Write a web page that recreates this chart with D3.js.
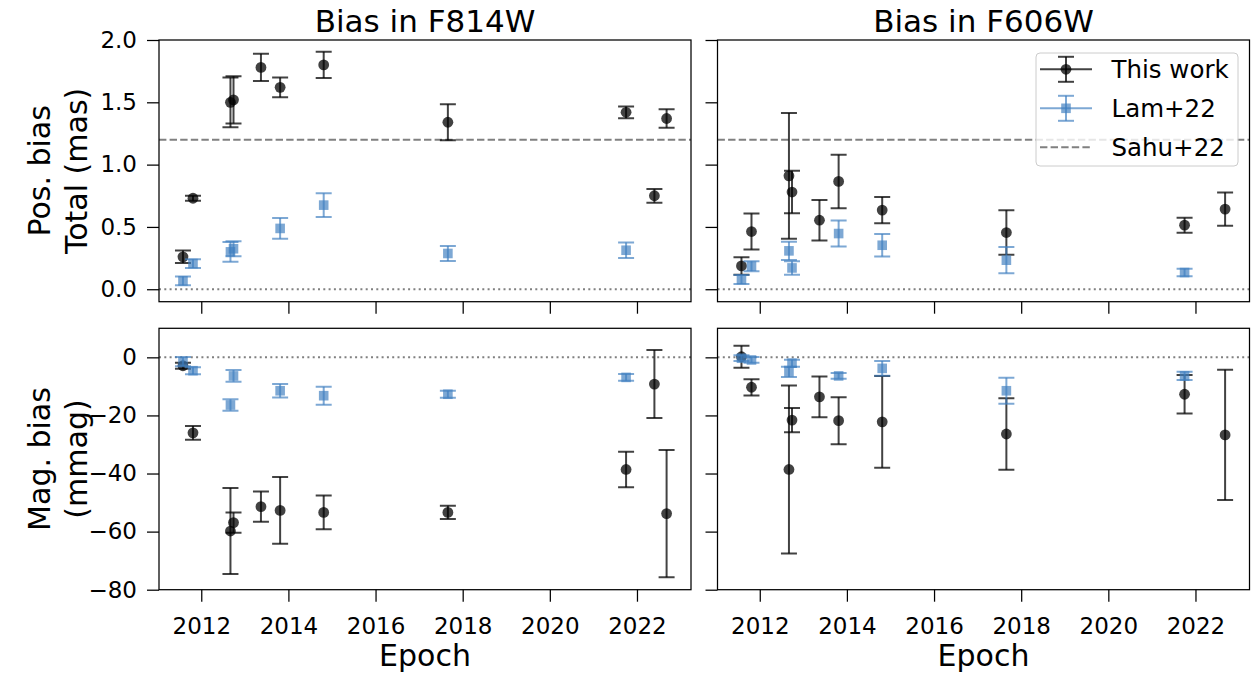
<!DOCTYPE html>
<html>
<head>
<meta charset="utf-8">
<script src="https://cdn.jsdelivr.net/npm/d3@7"></script>
<style>
  html, body { margin: 0; padding: 0; background: #fff; }
  svg { display: block; font-family: "DejaVu Sans", sans-serif; }
</style>
</head>
<body>
<svg id="chart" width="1257" height="673"></svg>
<script>
// ---------------- data ----------------
const titles = ["Bias in F814W", "Bias in F606W"];
const xTicks = [2012, 2014, 2016, 2018, 2020, 2022];
const posTicks = [0.0, 0.5, 1.0, 1.5, 2.0];
const magTicks = [0, -20, -40, -60, -80];
const sahu22 = 1.2;

// This work, F814W
const f814Epochs = [2011.58, 2011.81, 2012.67, 2012.74, 2013.37, 2013.81, 2014.81, 2017.66, 2021.75, 2022.40, 2022.68];
const f814Pos    = [0.26, 0.73, 1.50, 1.52, 1.78, 1.62, 1.80, 1.34, 1.42, 0.75, 1.37];
const f814PosErr = [0.05, 0.02, 0.20, 0.19, 0.11, 0.08, 0.105, 0.145, 0.047, 0.055, 0.074];
const f814Mag    = [-2.9, -26.0, -59.8, -56.9, -51.4, -52.7, -53.4, -53.4, -38.6, -9.2, -53.8];
const f814MagErr = [1.0, 2.4, 14.8, 3.5, 5.2, 11.5, 5.8, 2.3, 6.1, 11.7, 21.9];

// Lam+22, F814W
const lam814Epochs = [2011.58, 2011.81, 2012.67, 2012.74, 2013.81, 2014.81, 2017.66, 2021.75];
const lam814Pos    = [0.067, 0.206, 0.30, 0.325, 0.488, 0.675, 0.287, 0.313];
const lam814PosErr = [0.035, 0.035, 0.08, 0.06, 0.083, 0.095, 0.06, 0.062];
const lam814Mag    = [-1.5, -4.6, -16.4, -6.4, -11.5, -13.2, -12.7, -6.9];
const lam814MagErr = [1.6, 1.2, 2.0, 2.0, 2.3, 3.1, 1.2, 1.2];

// This work, F606W
const f606Epochs = [2011.58, 2011.81, 2012.67, 2012.74, 2013.37, 2013.81, 2014.81, 2017.66, 2021.75, 2022.68];
const f606Pos    = [0.187, 0.463, 0.91, 0.78, 0.554, 0.865, 0.635, 0.455, 0.514, 0.643];
const f606PosErr = [0.07, 0.145, 0.505, 0.17, 0.163, 0.215, 0.105, 0.178, 0.06, 0.133];
const f606Mag    = [0.2, -10.3, -38.6, -21.6, -13.6, -21.8, -22.2, -26.4, -12.7, -26.7];
const f606MagErr = [3.8, 2.8, 28.9, 4.2, 7.0, 8.1, 15.8, 12.3, 6.6, 22.4];

// Lam+22, F606W
const lam606Epochs = [2011.58, 2011.81, 2012.67, 2012.74, 2013.81, 2014.81, 2017.66, 2021.75];
const lam606Pos    = [0.078, 0.185, 0.308, 0.171, 0.447, 0.353, 0.233, 0.134];
const lam606PosErr = [0.036, 0.04, 0.074, 0.054, 0.105, 0.09, 0.105, 0.03];
const lam606Mag    = [-0.3, -0.9, -5.0, -2.0, -6.4, -3.8, -11.5, -6.4];
const lam606MagErr = [1.0, 1.0, 1.8, 1.2, 1.0, 2.5, 4.5, 1.4];

const legendLabels = ["This work", "Lam+22", "Sahu+22"];

// ---------------- layout ----------------
const svg = d3.select("#chart");
const colsX = [[159, 691], [717.5, 1249.5]];
const rowsY = [[40, 301.7], [328.3, 589.7]];
const xDomain = [2011.03, 2023.24];
const posDomain = [-0.1, 2.0];
const magDomain = [-80, 10];

const blackCol = "#000";
const blueCol = "#3f7fbf";
const FONT = "DejaVu Sans, sans-serif";

function zip(xs, ys, es) { return xs.map((x, i) => ({x, y: ys[i], e: es[i]})); }

const panels = [
  {col: 0, row: 0, domain: posDomain, ticks: posTicks, fmt: d3.format(".1f"),
   work: zip(f814Epochs, f814Pos, f814PosErr), lam: zip(lam814Epochs, lam814Pos, lam814PosErr), sahu: true},
  {col: 1, row: 0, domain: posDomain, ticks: posTicks, fmt: d3.format(".1f"),
   work: zip(f606Epochs, f606Pos, f606PosErr), lam: zip(lam606Epochs, lam606Pos, lam606PosErr), sahu: true, legend: true},
  {col: 0, row: 1, domain: magDomain, ticks: magTicks, fmt: d3.format("d"),
   work: zip(f814Epochs, f814Mag, f814MagErr), lam: zip(lam814Epochs, lam814Mag, lam814MagErr)},
  {col: 1, row: 1, domain: magDomain, ticks: magTicks, fmt: d3.format("d"),
   work: zip(f606Epochs, f606Mag, f606MagErr), lam: zip(lam606Epochs, lam606Mag, lam606MagErr)},
];

panels.forEach(p => {
  const [x0, x1] = colsX[p.col];
  const [y0, y1] = rowsY[p.row];
  const x = d3.scaleLinear().domain(xDomain).range([x0, x1]);
  const y = d3.scaleLinear().domain(p.domain).range([y1, y0]);
  const g = svg.append("g");

  const clipId = `clip${p.col}${p.row}`;
  svg.append("clipPath").attr("id", clipId).append("rect")
    .attr("x", x0).attr("y", y0).attr("width", x1 - x0).attr("height", y1 - y0);
  const plot = g.append("g").attr("clip-path", `url(#${clipId})`);

  // reference lines
  plot.append("line").attr("x1", x0).attr("x2", x1).attr("y1", y(0)).attr("y2", y(0))
    .attr("stroke", "#808080").attr("stroke-width", 2).attr("stroke-dasharray", "2,3.3");
  if (p.sahu) {
    plot.append("line").attr("x1", x0).attr("x2", x1).attr("y1", y(sahu22)).attr("y2", y(sahu22))
      .attr("stroke", "#808080").attr("stroke-width", 2).attr("stroke-dasharray", "7.4,3.2");
  }

  function errbars(data, color, op, marker) {
    const gg = plot.append("g");
    const cap = 8;
    data.forEach(d => {
      const cx = x(d.x), cyT = y(d.y + d.e), cyB = y(d.y - d.e);
      gg.append("line").attr("x1", cx).attr("x2", cx).attr("y1", cyT).attr("y2", cyB)
        .attr("stroke", color).attr("stroke-width", 2).attr("stroke-opacity", op);
      [cyT, cyB].forEach(cy => gg.append("line").attr("x1", cx - cap).attr("x2", cx + cap)
        .attr("y1", cy).attr("y2", cy).attr("stroke", color).attr("stroke-width", 2).attr("stroke-opacity", op));
      if (marker === "circle") {
        gg.append("circle").attr("cx", cx).attr("cy", y(d.y)).attr("r", 5.4)
          .attr("fill", color).attr("fill-opacity", op);
      } else {
        gg.append("rect").attr("x", cx - 4.8).attr("y", y(d.y) - 4.8).attr("width", 9.6).attr("height", 9.6)
          .attr("fill", color).attr("fill-opacity", op);
      }
    });
  }
  errbars(p.work, blackCol, 0.74, "circle");
  errbars(p.lam, blueCol, 0.68, "square");

  // axes
  const xAxis = d3.axisBottom(x).tickValues(xTicks).tickSize(12).tickSizeOuter(0).tickPadding(16)
    .tickFormat(p.row === 1 ? d3.format("d") : () => "");
  const yAxis = d3.axisLeft(y).tickValues(p.ticks).tickSize(12).tickSizeOuter(0).tickPadding(10)
    .tickFormat(p.col === 0 ? p.fmt : () => "");
  const gx = g.append("g").attr("transform", `translate(0,${y1})`).call(xAxis);
  const gy = g.append("g").attr("transform", `translate(${x0},0)`).call(yAxis);
  [gx, gy].forEach(a => {
    a.select(".domain").remove();
    a.selectAll(".tick line").attr("stroke", "#000").attr("stroke-width", 1.25);
    a.selectAll(".tick text").attr("fill", "#000").style("font-family", FONT).style("font-size", "23px");
  });

  // frame
  g.append("rect").attr("x", x0).attr("y", y0).attr("width", x1 - x0).attr("height", y1 - y0)
    .attr("fill", "none").attr("stroke", "#000").attr("stroke-width", 1.25);

  // legend
  if (p.legend) {
    const lg = g.append("g");
    lg.append("rect").attr("x", 1036).attr("y", 53).attr("width", 202).attr("height", 113).attr("rx", 4)
      .attr("fill", "#fff").attr("fill-opacity", 0.8).attr("stroke", "#cccccc").attr("stroke-width", 1);
    const rows = [69.3, 108.3, 147.3];
    const hx0 = 1040, hx1 = 1092, hc = 1066;
    [[blackCol, 0.74, "circle"], [blueCol, 0.68, "square"]].forEach(([c, op, m], i) => {
      const yy = rows[i];
      lg.append("line").attr("x1", hx0).attr("x2", hx1).attr("y1", yy).attr("y2", yy)
        .attr("stroke", c).attr("stroke-width", 2).attr("stroke-opacity", op);
      lg.append("line").attr("x1", hc).attr("x2", hc).attr("y1", yy - 12.5).attr("y2", yy + 12.5)
        .attr("stroke", c).attr("stroke-width", 2).attr("stroke-opacity", op);
      [yy - 12.5, yy + 12.5].forEach(cy => lg.append("line").attr("x1", hc - 8).attr("x2", hc + 8)
        .attr("y1", cy).attr("y2", cy).attr("stroke", c).attr("stroke-width", 2).attr("stroke-opacity", op));
      if (m === "circle") lg.append("circle").attr("cx", hc).attr("cy", yy).attr("r", 5.4).attr("fill", c).attr("fill-opacity", op);
      else lg.append("rect").attr("x", hc - 4.8).attr("y", yy - 4.8).attr("width", 9.6).attr("height", 9.6).attr("fill", c).attr("fill-opacity", op);
    });
    lg.append("line").attr("x1", hx0).attr("x2", hx1).attr("y1", rows[2]).attr("y2", rows[2])
      .attr("stroke", "#808080").attr("stroke-width", 2).attr("stroke-dasharray", "7.4,3.2");
    legendLabels.forEach((t, i) => {
      lg.append("text").attr("x", 1111.5).attr("y", rows[i]).attr("dy", "0.36em")
        .style("font-family", FONT).style("font-size", "24.5px").attr("fill", "#000").text(t);
    });
  }
});

// titles and x labels
titles.forEach((t, i) => {
  const [x0, x1] = colsX[i];
  svg.append("text").attr("x", (x0 + x1) / 2).attr("y", 32).attr("text-anchor", "middle")
    .style("font-family", FONT).style("font-size", "31px").attr("fill", "#000").text(t);
  svg.append("text").attr("x", (x0 + x1) / 2).attr("y", 666).attr("text-anchor", "middle")
    .style("font-family", FONT).style("font-size", "30px").attr("fill", "#000").text("Epoch");
});

// y labels
const yLabels = [[["Pos. bias", "Total (mas)"], rowsY[0]], [["Mag. bias", "(mmag)"], rowsY[1]]];
yLabels.forEach(([lines, [y0, y1]]) => {
  const cy = (y0 + y1) / 2;
  [50, 87].forEach((bx, i) => {
    svg.append("text").attr("transform", `translate(${bx},${cy}) rotate(-90)`)
      .attr("text-anchor", "middle").style("font-family", FONT).style("font-size", "30px")
      .attr("fill", "#000").text(lines[i]);
  });
});
</script>
</body>
</html>
